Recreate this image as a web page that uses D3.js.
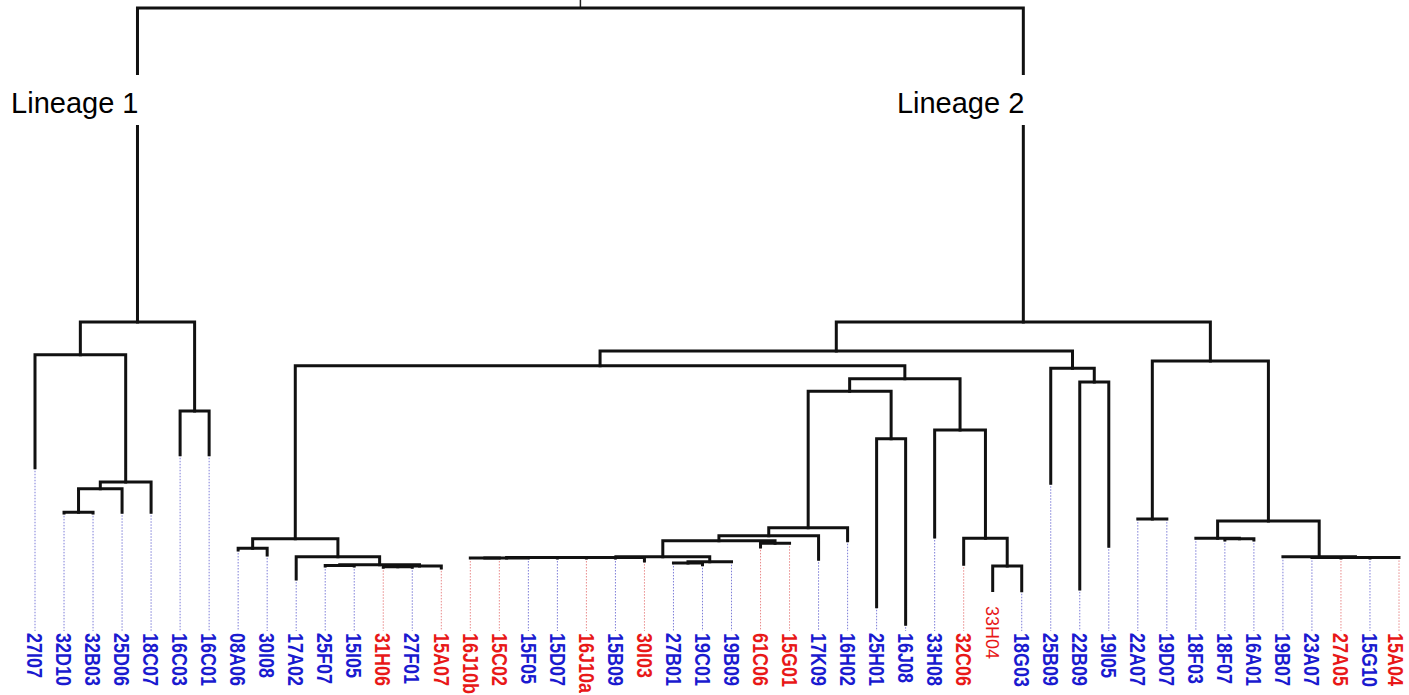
<!DOCTYPE html>
<html>
<head>
<meta charset="utf-8">
<script src="https://cdn.jsdelivr.net/npm/d3@7"></script>
<style>
  body { margin: 0; background: #fff; }
  svg { display: block; }
</style>
</head>
<body>
<svg id="chart" width="1409" height="695"></svg>
<script>
// leaf order, left to right
const leaves = ['27I07','32D10','32B03','25D06','18C07','16C03','16C01','08A06','30I08','17A02',
  '25F07','15I05','31H06','27F01','15A07','16J10b','15C02','15F05','15D07','16J10a',
  '15B09','30I03','27B01','19C01','19B09','61C06','15G01','17K09','16H02','25H01',
  '16J08','33H08','32C06','33H04','18G03','25B09','22B09','19I05','22A07','19D07',
  '18F03','18F07','16A01','19B07','23A07','27A05','15G10','15A04'];

// r = red label, b = blue label
const leafGroup = ['b','b','b','b','b','b','b','b','b','b',
  'b','b','r','b','r','r','r','b','b','r',
  'b','r','b','b','b','r','r','b','b','b',
  'b','b','r','r','b','b','b','b','b','b',
  'b','b','b','b','b','r','b','r'];

// distance from the root to each leaf (0 = root)
const leafDist = [0.744,0.817,0.817,0.816,0.816,0.723,0.723,0.877,0.885,0.924,
  0.903,0.903,0.905,0.905,0.906,0.890,0.890,0.890,0.890,0.890,
  0.890,0.895,0.898,0.901,0.896,0.872,0.866,0.892,0.862,0.969,
  0.997,0.856,0.900,0.945,0.943,0.769,0.940,0.871,0.827,0.827,
  0.858,0.861,0.861,0.888,0.889,0.890,0.890,0.889];

// merges: [a, b, dist]; ids < 48 are leaves, 48 + k is the k-th merge
const merges = [
  [1,2,0.816],[48,3,0.778],[49,4,0.767],[0,50,0.561],[5,6,0.652],[51,52,0.508],
  [7,8,0.874],[10,11,0.902],[12,13,0.904],[56,14,0.903],[55,57,0.901],[9,58,0.888],[54,59,0.859],
  [15,16,0.890],[61,17,0.890],[62,18,0.889],[63,19,0.889],[64,20,0.889],[65,21,0.889],
  [22,23,0.898],[67,24,0.896],[66,68,0.888],[25,26,0.866],[69,70,0.862],[71,27,0.854],[72,28,0.841],
  [29,30,0.697],[73,74,0.620],[33,34,0.903],[32,76,0.858],[31,77,0.683],[75,78,0.600],[60,79,0.579],
  [36,37,0.605],[35,81,0.583],[80,82,0.555],
  [38,39,0.827],[41,42,0.859],[40,85,0.858],[44,45,0.889],[46,47,0.889],[87,88,0.889],[43,89,0.888],
  [86,90,0.830],[84,91,0.571],[83,92,0.508],[53,93,0]
];

const lineageLabels = ['Lineage 1', 'Lineage 2'];
const lineageNodes = [53, 93];

const svg = d3.select('#chart');

// build nested tree
const nodes = leaves.map((n, i) => ({ name: n, group: leafGroup[i], dist: leafDist[i], id: i }));
merges.forEach((m, k) => {
  nodes.push({ id: 48 + k, dist: m[2], children: [nodes[m[0]], nodes[m[1]]] });
});
const root = d3.hierarchy(nodes[nodes.length - 1]);

const x = d3.scalePoint().domain(leaves).range([35, 1399]);
const y = d3.scaleLinear().domain([0, 1]).range([8, 626]);

root.eachAfter(d => {
  d.y = y(d.data.dist);
  d.x = d.children ? d3.mean(d.children, c => c.x) : x(d.data.name);
});

const colors = { b: '#1a1acf', r: '#e81818' };
const guideColors = { b: '#7d7dd8', r: '#e98a8a' };

// dotted guides from leaf tips to labels
svg.append('g').selectAll('line')
  .data(root.leaves())
  .join('line')
  .attr('x1', d => d.x).attr('x2', d => d.x)
  .attr('y1', d => d.y).attr('y2', 631)
  .attr('stroke', d => guideColors[d.data.group])
  .attr('stroke-width', 1)
  .attr('stroke-dasharray', '1.5,1.5');

// root stub
svg.append('line')
  .attr('x1', root.x).attr('x2', root.x)
  .attr('y1', 0).attr('y2', root.y)
  .attr('stroke', '#222').attr('stroke-width', 1.5);

// elbow branches
svg.append('g').selectAll('path')
  .data(root.descendants().filter(d => d.children))
  .join('path')
  .attr('d', d => {
    const [a, b] = d.children;
    return `M${a.x},${a.y}V${d.y}H${b.x}V${b.y}`;
  })
  .attr('fill', 'none')
  .attr('stroke', '#111')
  .attr('stroke-width', 3)
  .attr('stroke-linejoin', 'miter')
  .attr('stroke-linecap', 'square');

// leaf labels (kept inside the right edge)
const special = '33H04';
svg.append('g').selectAll('text')
  .data(root.leaves().filter(d => d.data.name !== special))
  .join('text')
  .attr('transform', d => `translate(${Math.min(d.x, 1396)},633) rotate(90) scale(1,1.2)`)
  .attr('dy', '0.36em')
  .attr('font-family', 'Liberation Sans, Arial, sans-serif')
  .attr('font-weight', 'bold')
  .attr('font-size', 18)
  .attr('fill', d => colors[d.data.group])
  .text(d => d.data.name);

const sp = root.leaves().find(d => d.data.name === special);
svg.append('rect')
  .attr('x', sp.x - 11).attr('y', 592)
  .attr('width', 23).attr('height', 86)
  .attr('fill', '#fff');
svg.append('text')
  .attr('transform', `translate(${sp.x},606) rotate(90)`)
  .attr('dy', '0.36em')
  .attr('font-family', 'Liberation Sans, Arial, sans-serif')
  .attr('font-size', 18)
  .attr('fill', colors[sp.data.group])
  .text(special);

// lineage labels
const byId = new Map(root.descendants().map(d => [d.data.id, d]));
lineageNodes.forEach((id, i) => {
  const n = byId.get(id);
  svg.append('rect')
    .attr('x', n.x - 130).attr('y', 75)
    .attr('width', 132).attr('height', 50)
    .attr('fill', '#fff');
  svg.append('text')
    .attr('x', n.x + 1).attr('y', 113)
    .attr('text-anchor', 'end')
    .attr('font-family', 'Liberation Sans, Arial, sans-serif')
    .attr('font-size', 29)
    .attr('fill', '#000')
    .text(lineageLabels[i]);
});
</script>
</body>
</html>
